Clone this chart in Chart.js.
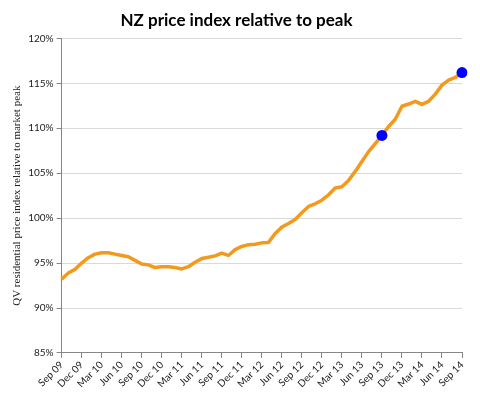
<!DOCTYPE html>
<html>
<head>
<meta charset="utf-8">
<script src="https://cdn.jsdelivr.net/npm/chart.js@4/dist/chart.umd.min.js"></script>
<style>
  html, body { margin: 0; padding: 0; background: #fff; }
  #wrap { width: 480px; height: 397px; }
</style>
</head>
<body>
<div id="wrap"><canvas id="nz-chart"></canvas></div>
<script>
// Monthly categories, Sep 09 .. Sep 14 (only every third one is labelled)
const months = [
  'Sep 09', 'Oct 09', 'Nov 09', 'Dec 09', 'Jan 10', 'Feb 10', 'Mar 10', 'Apr 10', 'May 10', 'Jun 10',
  'Jul 10', 'Aug 10', 'Sep 10', 'Oct 10', 'Nov 10', 'Dec 10', 'Jan 11', 'Feb 11', 'Mar 11', 'Apr 11',
  'May 11', 'Jun 11', 'Jul 11', 'Aug 11', 'Sep 11', 'Oct 11', 'Nov 11', 'Dec 11', 'Jan 12', 'Feb 12',
  'Mar 12', 'Apr 12', 'May 12', 'Jun 12', 'Jul 12', 'Aug 12', 'Sep 12', 'Oct 12', 'Nov 12', 'Dec 12',
  'Jan 13', 'Feb 13', 'Mar 13', 'Apr 13', 'May 13', 'Jun 13', 'Jul 13', 'Aug 13', 'Sep 13', 'Oct 13',
  'Nov 13', 'Dec 13', 'Jan 14', 'Feb 14', 'Mar 14', 'Apr 14', 'May 14', 'Jun 14', 'Jul 14', 'Aug 14',
  'Sep 14'
];

// QV price index, % of market peak
const priceIndex = [
  93.2, 93.9, 94.3, 95.0, 95.6, 96.0, 96.15, 96.15, 96.0, 95.85,
  95.7, 95.3, 94.9, 94.8, 94.5, 94.6, 94.6, 94.5, 94.35, 94.6,
  95.1, 95.5, 95.65, 95.8, 96.1, 95.85, 96.5, 96.85, 97.05, 97.1,
  97.25, 97.3, 98.3, 99.0, 99.4, 99.85, 100.6, 101.3, 101.6, 102.0,
  102.6, 103.35, 103.5, 104.2, 105.2, 106.3, 107.4, 108.3, 109.2, 110.2,
  111.0, 112.45, 112.7, 113.0, 112.65, 113.0, 113.8, 114.8, 115.35, 115.65,
  116.2
];

// Highlighted months (blue dots)
const highlightMonths = ['Sep 13', 'Sep 14'];

const yTicks = [85, 90, 95, 100, 105, 110, 115, 120];

const highlightData = months.map((m, i) => highlightMonths.includes(m) ? priceIndex[i] : null);

const axisGrey = '#868686';

new Chart(document.getElementById('nz-chart'), {
  type: 'line',
  data: {
    labels: months,
    datasets: [
      {
        label: 'Highlights',
        data: highlightData,
        showLine: false,
        pointRadius: 5.5,
        pointBackgroundColor: '#0000FF',
        pointBorderColor: '#0000FF',
        pointBorderWidth: 0,
      },
      {
        label: 'QV index',
        data: priceIndex,
        borderColor: '#F39A1E',
        borderWidth: 3.5,
        pointRadius: 0,
        tension: 0,
        borderJoinStyle: 'round',
      },
    ],
  },
  options: {
    responsive: true,
    maintainAspectRatio: false,
    animation: false,
    layout: { padding: { left: 11, right: 18, top: 4, bottom: 6 } },
    plugins: {
      legend: { display: false },
      tooltip: { enabled: false },
      title: {
        display: true,
        text: 'NZ price index relative to peak',
        color: '#000',
        font: { family: 'Lato', size: 17, weight: 'bold' },
        padding: { top: 6, bottom: 8 },
      },
    },
    scales: {
      x: {
        ticks: {
          autoSkip: false,
          maxRotation: 45,
          minRotation: 45,
          color: '#222',
          font: { family: 'Lato', size: 10 },
          padding: 1,
          callback: function (value, index) {
            return index % 3 === 0 ? months[index] : '';
          },
        },
        grid: {
          drawOnChartArea: false,
          tickLength: 5,
          color: function (ctx) {
            return ctx.index % 3 === 0 ? axisGrey : 'rgba(0,0,0,0)';
          },
        },
        border: { color: axisGrey, width: 1 },
      },
      y: {
        min: yTicks[0],
        max: yTicks[yTicks.length - 1],
        afterBuildTicks: function (axis) {
          axis.ticks = yTicks.map(v => ({ value: v }));
        },
        title: {
          display: true,
          text: 'QV residential price index relative to market peak',
          color: '#222',
          font: { family: 'Liberation Serif', size: 11 },
          padding: { top: 0, bottom: 1 },
        },
        ticks: {
          color: '#222',
          font: { family: 'Lato', size: 10 },
          padding: 3,
          callback: function (value) {
            return value + '%';
          },
        },
        grid: {
          color: '#D9D9D9',
          tickColor: axisGrey,
          tickLength: 5,
        },
        border: { color: axisGrey, width: 1 },
      },
    },
  },
});
</script>
</body>
</html>
